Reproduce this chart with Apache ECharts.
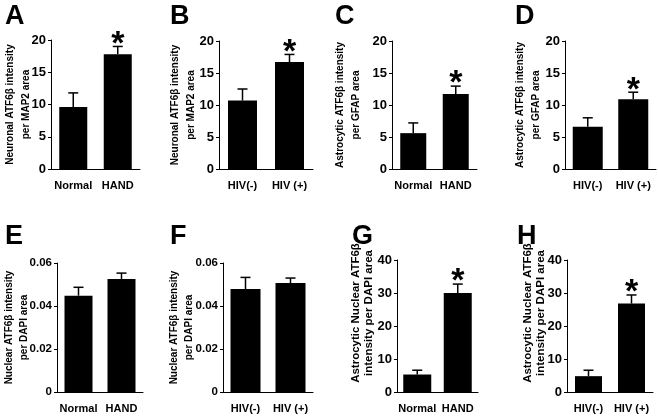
<!DOCTYPE html>
<html><head><meta charset="utf-8">
<script src="https://cdn.jsdelivr.net/npm/echarts@6/dist/echarts.min.js"></script>
<style>html,body{margin:0;padding:0;background:#fff}#c{width:658px;height:417px}</style>
</head><body><div id="c"></div>
<script>
// ---- data ----
const catsNormalHand = ['Normal', 'HAND'];
const catsHIV = ['HIV(-)', 'HIV (+)'];

const meanA = [9.6, 17.8];   const semA = [2.2, 1.2];
const meanB = [10.7, 16.7];  const semB = [1.8, 1.2];
const meanC = [5.6, 11.7];   const semC = [1.6, 1.25];
const meanD = [6.6, 10.9];   const semD = [1.4, 1.1];
const meanE = [0.0448, 0.0526]; const semE = [0.0039, 0.0027];
const meanF = [0.0479, 0.0507]; const semF = [0.0054, 0.0023];
const meanG = [5.3, 30.0];   const semG = [1.3, 2.7];
const meanH = [4.8, 26.8];   const semH = [1.8, 2.6];

const sigSecond = [0, 1];
const sigNone = [0, 0];

const ticks20 = [0, 5, 10, 15, 20];
const ticks006 = [0, 0.02, 0.04, 0.06];
const ticks40 = [0, 10, 20, 30, 40];

const titleNeuronal = 'Neuronal ATF6β intensity\nper MAP2 area';
const titleAstro = 'Astrocytic ATF6β intensity\nper GFAP area';
const titleNuclear = 'Nuclear ATF6β intensity\nper DAPI area';
const titleAstroNuc = 'Astrocytic Nuclear ATF6β\nintensity per DAPI area';

const panels = [
  {letter: 'A', cats: catsNormalHand, mean: meanA, sem: semA, sig: sigSecond, ticks: ticks20, name: titleNeuronal},
  {letter: 'B', cats: catsHIV, mean: meanB, sem: semB, sig: sigSecond, ticks: ticks20, name: titleNeuronal},
  {letter: 'C', cats: catsNormalHand, mean: meanC, sem: semC, sig: sigSecond, ticks: ticks20, name: titleAstro},
  {letter: 'D', cats: catsHIV, mean: meanD, sem: semD, sig: sigSecond, ticks: ticks20, name: titleAstro},
  {letter: 'E', cats: catsNormalHand, mean: meanE, sem: semE, sig: sigNone, ticks: ticks006, name: titleNuclear},
  {letter: 'F', cats: catsHIV, mean: meanF, sem: semF, sig: sigNone, ticks: ticks006, name: titleNuclear},
  {letter: 'G', cats: catsNormalHand, mean: meanG, sem: semG, sig: sigSecond, ticks: ticks40, name: titleAstroNuc},
  {letter: 'H', cats: catsHIV, mean: meanH, sem: semH, sig: sigSecond, ticks: ticks40, name: titleAstroNuc}
];

// ---- layout (pixels) ----
const layout = [
  {left: 51,  top: 40,  width: 89, height: 129, bw: 28, gap: 17, fs: 10,   lh: 16, shift: 0,  tfs: 13,   lx: 5,   ly: 3},
  {left: 219, top: 41,  width: 94, height: 128, bw: 29, gap: 20, fs: 10,   lh: 16, shift: 0,  tfs: 13,   lx: 170, ly: 3},
  {left: 392, top: 41,  width: 85, height: 128, bw: 26, gap: 28, fs: 10,   lh: 16, shift: 0,  tfs: 13,   lx: 335, ly: 3},
  {left: 565, top: 41,  width: 91, height: 128, bw: 30, gap: 21, fs: 10,   lh: 16, shift: 0,  tfs: 13,   lx: 515, ly: 3},
  {left: 57,  top: 263, width: 86, height: 129, bw: 28, gap: 25, fs: 10,   lh: 15, shift: 0,  tfs: 11.5, lx: 5,   ly: 223},
  {left: 223, top: 263, width: 90, height: 129, bw: 30, gap: 26, fs: 10,   lh: 15, shift: 0,  tfs: 11.5, lx: 170, ly: 223},
  {left: 397, top: 260, width: 81, height: 132, bw: 28, gap: 22, fs: 11.5, lh: 13, shift: 26, tfs: 13,   lx: 352, ly: 223},
  {left: 567, top: 260, width: 86, height: 132, bw: 27, gap: 20, fs: 11.5, lh: 13, shift: 26, tfs: 13,   lx: 517, ly: 223}
];

const FONT = '"Liberation Sans", Arial, Helvetica, sans-serif';

const option = {
  animation: false,
  backgroundColor: '#ffffff',
  title: [], grid: [], xAxis: [], yAxis: [], series: []
};

panels.forEach(function (p, i) {
  const L = layout[i];
  option.title.push({
    text: p.letter, left: L.lx, top: L.ly, padding: 0,
    textStyle: {fontFamily: FONT, fontWeight: 'bold', fontSize: 27, color: '#000'}
  });
  option.grid.push({left: L.left, top: L.top, width: L.width, height: L.height, containLabel: false});
  option.xAxis.push({
    type: 'category', gridIndex: i, data: p.cats,
    axisLine: {show: true, lineStyle: {color: '#000', width: 1}},
    axisTick: {show: false},
    axisLabel: {interval: 0, margin: 11, color: '#000', fontFamily: FONT, fontWeight: 'bold', fontSize: 11}
  });
  const t = p.ticks;
  option.yAxis.push({
    type: 'value', gridIndex: i,
    min: t[0], max: t[t.length - 1], interval: t[1] - t[0],
    name: p.name, nameLocation: 'middle', nameGap: L.gap, nameRotate: 90,
    nameMoveOverlap: false,
    nameTextStyle: {color: '#000', fontFamily: FONT, fontWeight: 'bold', fontSize: L.fs, lineHeight: L.lh,
      padding: [0, 0, 0, L.shift]},
    axisLine: {show: true, lineStyle: {color: '#000', width: 1}},
    axisTick: {show: true, length: 3, lineStyle: {color: '#000'}},
    splitLine: {show: false},
    axisLabel: {margin: 5, color: '#000', fontFamily: FONT, fontWeight: 'bold', fontSize: L.tfs}
  });
  option.series.push({
    type: 'bar', xAxisIndex: i, yAxisIndex: i,
    data: p.mean, barWidth: L.bw,
    itemStyle: {color: '#000'}, silent: true
  });
  option.series.push({
    type: 'custom', xAxisIndex: i, yAxisIndex: i, silent: true,
    data: p.mean.map(function (m, k) { return [k, m, m + p.sem[k], p.sig[k]]; }),
    renderItem: function (params, api) {
      const k = api.value(0);
      const pm = api.coord([k, api.value(1)]);
      const pt = api.coord([k, api.value(2)]);
      const hw = 5;
      const children = [
        {type: 'line', shape: {x1: pm[0], y1: pm[1], x2: pt[0], y2: pt[1]}, style: {stroke: '#000', lineWidth: 1.5}},
        {type: 'line', shape: {x1: pt[0] - hw, y1: pt[1], x2: pt[0] + hw, y2: pt[1]}, style: {stroke: '#000', lineWidth: 1.5}}
      ];
      if (api.value(3)) {
        children.push({type: 'text', style: {
          text: '*', x: pt[0], y: pt[1] - 2, align: 'center', verticalAlign: 'middle',
          fill: '#000', fontFamily: FONT, fontWeight: 'bold', fontSize: 34
        }});
      }
      return {type: 'group', children: children};
    }
  });
});

const chart = echarts.init(document.getElementById('c'), null, {renderer: 'canvas'});
chart.setOption(option);
</script>
</body></html>
